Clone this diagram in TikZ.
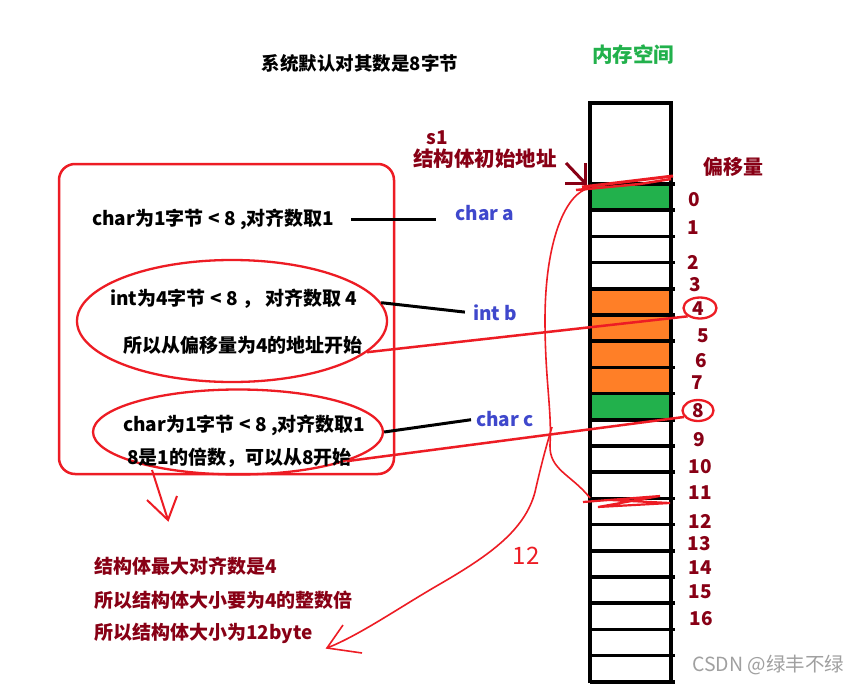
\documentclass[tikz,border=0pt]{standalone}
\usepackage{fontspec}
\setmainfont{Noto Sans CJK SC}
\newfontfamily\wmfont{Noto Sans CJK SC}
\usetikzlibrary{shapes.geometric}
\definecolor{pred}{HTML}{ED1C24}
\definecolor{dred}{HTML}{880015}
\definecolor{pblue}{HTML}{3F48CC}
\definecolor{pgreen}{HTML}{22B14C}
\definecolor{porange}{HTML}{FF7F27}
\definecolor{wmgray}{HTML}{A0A0A0}
\begin{document}
\begin{tikzpicture}[x=1pt,y=-1pt,
  txt/.style={font=\fontsize{19}{22}\selectfont\bfseries, inner sep=0pt, anchor=west},
  dtxt/.style={txt, text=dred},
  num/.style={font=\fontsize{19}{22}\selectfont\bfseries, text=dred, inner sep=0pt},
  lbl/.style={font=\fontsize{19}{22}\selectfont\bfseries, text=pblue, inner sep=0pt},
  redring/.style={draw=pred, line width=2.3pt, ellipse, inner sep=0pt},
  redline/.style={draw=pred, line width=2.5pt},
  blkline/.style={draw=black, line width=3pt},
  dredarrow/.style={draw=dred, line width=3pt},
  cellline/.style={draw=black, line width=3.5pt}
]
\useasboundingbox[fill=white] (0,0) rectangle (859,685);

% ---- memory column ----
\fill[pgreen] (590,184) rectangle (671,210.2);
\fill[porange] (590,288.8) rectangle (671,393.6);
\fill[pgreen] (590,393.6) rectangle (671,419.8);
\foreach \i in {0,...,19} \draw[cellline] (590,{184+26.2*\i}) -- (675,{184+26.2*\i});
\draw[cellline] (590,683) -- (590,103) -- (671,103) -- (671,683);

% ---- headings ----
\node[font=\fontsize{18.5}{22}\selectfont\bfseries, inner sep=0pt] (title) at (360,63) {系统默认对其数是8字节};
\node[font=\fontsize{20.5}{24}\selectfont\bfseries, text=pgreen, inner sep=0pt] (mem) at (633,55) {内存空间};
\node[font=\fontsize{19}{22}\selectfont\bfseries, text=dred, inner sep=0pt] (s1) at (437,138) {s1};
\node[font=\fontsize{20.5}{24}\selectfont\bfseries, text=dred, inner sep=0pt] (start) at (485,159) {结构体初始地址};
\node[font=\fontsize{20}{24}\selectfont\bfseries, text=dred, inner sep=0pt] (offs) at (733,167) {偏移量};

% ---- offsets ----
\foreach \n/\x/\y in {0/694/200,1/693/228,2/693/262,3/695/285,4/698/309,5/703/336,6/701/361,7/697/383,8/698/411,9/699/440,10/700/467,11/700/493,12/700/521,13/699/544,14/700/568,15/700/592,16/701/619}
  \node[num] (n\n) at (\x,\y) {\n};
\node[redring, minimum width=33pt, minimum height=21pt] (c4) at (700,308) {};
\node[redring, minimum width=31pt, minimum height=21pt] (c8) at (698,410.5) {};

% ---- start-address arrow ----
\coordinate (sa0) at (566,163);
\coordinate (satip) at (585,183);
\draw[dredarrow] (sa0) -- (satip);
\draw[dredarrow] (565,183) -- (satip) -- (585,163);

% ---- red scribbles ----
\draw[pred, line width=3pt] (582,187) -- (673,176);
\draw[pred, line width=2.5pt] (576,190) -- (640,184) -- (671,179);
\draw[pred, line width=2.2pt] (583,502) -- (660,496) -- (598,507) -- (670,503) -- (610,500);

% ---- left box ----
\draw[pred, line width=2.5pt, rounded corners=16pt] (59,164) rectangle (394,474);
\node[redring, minimum width=310pt, minimum height=122pt] (e1) at (232,321) {};
\node[redring, minimum width=290pt, minimum height=85pt] (e2) at (238,432) {};

\node[txt] (t1) at (92,219) {char为1字节 < 8 ,对齐数取1};
\node[txt] (t2) at (110,299) {int为4字节 < 8 ， 对齐数取 4};
\node[txt] (t3) at (123,345) {所以从偏移量为4的地址开始};
\node[txt] (t4) at (123,425) {char为1字节 < 8 ,对齐数取1};
\node[txt] (t5) at (127,458) {8是1的倍数，可以从8开始};

\node[lbl] (la) at (485,213) {char a};
\node[lbl] (lb) at (495,313) {int b};
\node[lbl] (lc) at (505,419) {char c};

\draw[blkline] ([xshift=17pt]t1.east) -- ([xshift=-19pt]t1.east -| la.west);
\draw[blkline, shorten >=8pt] (e1.7) -- (lb.west);
\draw[blkline, shorten >=5pt] (e2.east) -- (lc.west);

% ---- red connectors to offsets ----
\draw[redline] (e1.-13) -- (c4.214);
\draw[redline] (e2.-15) -- (c8.205);

% ---- brace / size curve ----
\coordinate (btop) at (590,188);
\coordinate (b11) at (590,498);
\coordinate (btip) at (327,648);
\draw[pred, line width=1.6pt] (btop) .. controls (566,192) and (545,240) .. (545,320)
  .. controls (545,380) and (552,410) .. (550,445)
  .. controls (549,470) and (572,475) .. (b11);
\draw[pred, line width=1.6pt] (552,427) .. controls (545,450) and (540,470) .. (535,492)
  .. controls (525,530) and (490,555) .. (440,584)
  .. controls (400,607) and (360,635) .. (btip);
\draw[pred, line width=1.6pt] (343,625) -- (btip) -- (362,653);
\node[font=\wmfont\fontsize{24}{26}\selectfont, text=pred, inner sep=0pt] (twelve) at (526,556) {12};

% ---- down arrow ----
\coordinate (da0) at (152,470);
\coordinate (datip) at (168,520);
\draw[pred, line width=2pt] (da0) -- (datip);
\draw[pred, line width=2pt] (147,500) -- (datip) -- (177,496);

% ---- conclusion ----
\node[dtxt] (r1) at (94,566) {结构体最大对齐数是4};
\node[dtxt] (r2) at (94,600) {所以结构体大小要为4的整数倍};
\node[dtxt] (r3) at (94,633) {所以结构体大小为12byte};

% ---- watermark ----
\node[font=\wmfont\fontsize{19.5}{21}\selectfont, text=wmgray, inner sep=0pt, anchor=west] (wm) at (692,665) {CSDN @绿丰不绿};
\end{tikzpicture}
\end{document}
